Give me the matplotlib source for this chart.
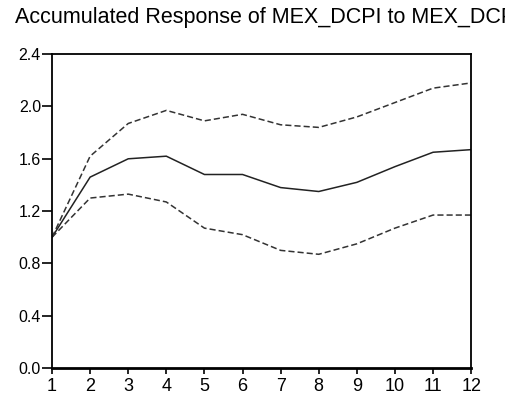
import matplotlib
matplotlib.use("Agg")
import matplotlib.pyplot as plt

plt.rcParams['font.family'] = ['Liberation Sans', 'DejaVu Sans']

periods = list(range(1, 13))
response = [1.00, 1.46, 1.60, 1.62, 1.48, 1.48, 1.38, 1.35, 1.42, 1.54, 1.65, 1.67]
upper = [1.00, 1.62, 1.87, 1.97, 1.89, 1.94, 1.86, 1.84, 1.92, 2.03, 2.14, 2.18]
lower = [1.00, 1.30, 1.33, 1.27, 1.07, 1.02, 0.90, 0.87, 0.95, 1.07, 1.17, 1.17]
yticks = [0.0, 0.4, 0.8, 1.2, 1.6, 2.0, 2.4]

fig = plt.figure(figsize=(5.05, 4.01), dpi=100)
ax = fig.add_axes([0.103, 0.082, 0.830, 0.783])

ax.plot(periods, response, color='#222222', lw=1.1)
ax.plot(periods, upper, color='#333333', lw=1.1, ls=(0, (4, 2)))
ax.plot(periods, lower, color='#333333', lw=1.1, ls=(0, (4, 2)))

ax.set_xlim(1, 12)
ax.set_ylim(0, 2.4)
ax.set_xticks(periods)
ax.set_yticks(yticks)
ax.set_yticklabels(["%.1f" % v for v in yticks], fontsize=11.5)
ax.tick_params(axis='x', labelsize=13, length=4.5, width=1.2, pad=2.5, direction='out')
ax.tick_params(axis='y', length=7.5, width=1.2, pad=0.5, direction='out')
for s in ax.spines.values():
    s.set_linewidth(1.3)
ax.spines['bottom'].set_linewidth(2)

# title runs off the right edge, as in the original
fig.text(15/505, 1 - 18/401, "Accumulated Response of MEX_DCPI to MEX_DCPI",
         fontsize=15.5, ha='left', va='center')

fig.savefig("out.png", dpi=100)
